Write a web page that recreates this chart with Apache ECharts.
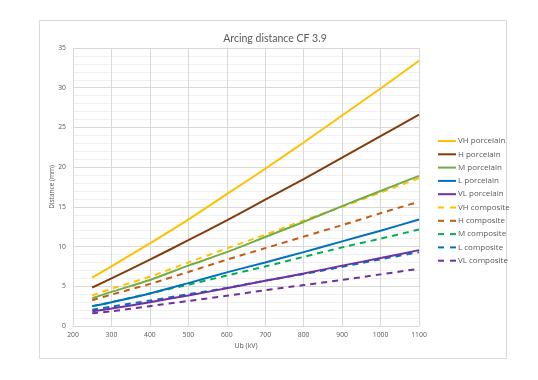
<!DOCTYPE html>
<html>
<head>
<meta charset="utf-8">
<script src="https://cdn.jsdelivr.net/npm/echarts@6/dist/echarts.min.js"></script>
<style>
html,body{margin:0;padding:0;background:#fff;}
#c{width:538px;height:380px;}
</style>
</head>
<body>
<div id="c"></div>
<script>
const ub = [250, 300, 400, 500, 600, 700, 800, 900, 1000, 1100];
const vhPorcelain = [6.1, 7.5, 10.4, 13.4, 16.6, 19.8, 23.1, 26.5, 29.9, 33.4];
const hPorcelain  = [4.85, 6.0, 8.35, 10.8, 13.3, 15.9, 18.5, 21.2, 23.9, 26.6];
const mPorcelain  = [3.5, 4.3, 5.8, 7.6, 9.3, 11.2, 13.1, 15.1, 17.0, 18.9];
const lPorcelain  = [2.5, 3.0, 4.1, 5.4, 6.75, 8.0, 9.3, 10.65, 12.0, 13.4];
const vlPorcelain = [1.85, 2.2, 3.0, 3.85, 4.75, 5.7, 6.6, 7.6, 8.55, 9.55];
const vhComposite = [3.85, 4.7, 6.2, 8.0, 9.75, 11.5, 13.3, 15.0, 16.8, 18.6];
const hComposite  = [3.25, 3.95, 5.3, 6.8, 8.35, 9.8, 11.25, 12.7, 14.2, 15.65];
const mComposite  = [2.5, 3.0, 4.1, 5.2, 6.35, 7.5, 8.7, 9.9, 11.0, 12.15];
const lComposite  = [2.05, 2.45, 3.2, 4.0, 4.8, 5.7, 6.55, 7.45, 8.4, 9.3];
const vlComposite = [1.6, 1.85, 2.5, 3.15, 3.8, 4.5, 5.15, 5.8, 6.5, 7.2];

const names = ['VH porcelain','H porcelain','M porcelain','L porcelain','VL porcelain',
               'VH composite','H composite','M composite','L composite','VL composite'];
const values = [vhPorcelain,hPorcelain,mPorcelain,lPorcelain,vlPorcelain,
                vhComposite,hComposite,mComposite,lComposite,vlComposite];
const colors = ['#FFC000','#843C0C','#70AD47','#0070C0','#7030A0',
                '#FFC000','#C55A11','#00B050','#0070C0','#7030A0'];

const series = names.map((n, i) => ({
  name: n,
  type: 'line',
  data: ub.map((x, j) => [x, values[i][j]]),
  showSymbol: false,
  symbol: 'none',
  smooth: 0.3,
  z: 10 - i,
  lineStyle: {
    color: colors[i],
    width: 2,
    type: i >= 5 ? [6, 5] : 'solid',
    cap: 'butt'
  },
  itemStyle: { color: colors[i] }
}));

const legendData = names.map((n, i) => ({
  name: n,
  itemStyle: { opacity: 0 },
  lineStyle: { color: colors[i], width: 2, type: i >= 5 ? [6, 6] : 'solid', cap: 'butt' }
}));

const chart = echarts.init(document.getElementById('c'), null, {renderer: 'canvas'});
const txt = '#595959';
chart.setOption({
  animation: false,
  backgroundColor: '#fff',
  graphic: [{
    type: 'rect',
    shape: { x: 39.5, y: 20.5, width: 467, height: 338 },
    style: { fill: 'none', stroke: '#d9d9d9', lineWidth: 1 },
    silent: true, z: -10
  }],
  title: {
    text: 'Arcing distance CF 3.9',
    left: 270, top: 28, textAlign: 'center',
    textStyle: { color: txt, fontSize: 10.5, fontWeight: 'normal', fontFamily: 'Lato' }
  },
  legend: {
    orient: 'vertical',
    left: 437, top: 137, padding: 0,
    itemWidth: 18, itemHeight: 8, itemGap: 5.3,
    textStyle: { color: txt, fontSize: 8, fontFamily: 'Open Sans', padding: [0, 0, 0, -3] },
    data: legendData
  },
  grid: { left: 73, top: 48, right: 119, bottom: 54, containLabel: false },
  xAxis: {
    type: 'value', min: 200, max: 1100, interval: 100,
    name: 'Ub (kV)', nameLocation: 'middle', nameGap: 16, nameMoveOverlap: false,
    nameTextStyle: { color: txt, fontSize: 7, fontFamily: 'Open Sans' },
    axisLine: { show: true, lineStyle: { color: '#d9d9d9' } },
    axisTick: { show: false },
    axisLabel: { color: txt, fontSize: 6.8, fontFamily: 'Open Sans', margin: 6,
      formatter: v => String(v) },
    splitLine: { show: true, lineStyle: { color: '#d9d9d9', width: 1 } }
  },
  yAxis: {
    type: 'value', min: 0, max: 35, interval: 5,
    name: 'Distance (mm)', nameLocation: 'middle', nameGap: 17, nameRotate: 90,
    nameMoveOverlap: false,
    nameTextStyle: { color: txt, fontSize: 6.5, fontFamily: 'Open Sans' },
    axisLine: { show: false },
    axisTick: { show: false },
    axisLabel: { color: txt, fontSize: 6.8, fontFamily: 'Open Sans', margin: 7,
      formatter: v => String(v) },
    splitLine: { show: true, lineStyle: { color: '#d9d9d9', width: 1 } },
    minorTick: { show: false, splitNumber: 5 },
    minorSplitLine: { show: true, lineStyle: { color: '#f0f0f0', width: 1 } }
  },
  series: series
});
</script>
</body>
</html>
